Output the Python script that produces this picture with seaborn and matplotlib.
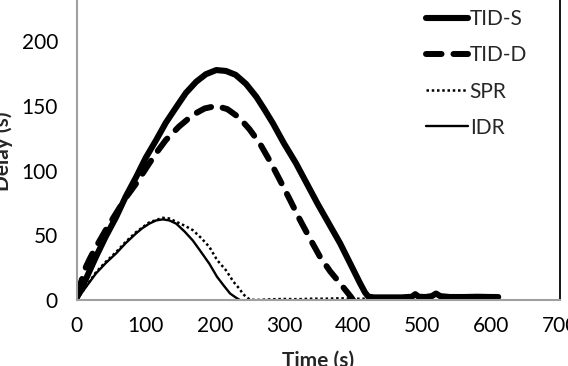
import matplotlib
matplotlib.use("Agg")
import matplotlib.pyplot as plt
import seaborn as sns
import pandas as pd

# ---- data ----
tids_t = [0, 14, 28, 42, 57, 71, 86, 100, 115, 129, 144, 158, 173, 187, 202, 216, 230, 245, 260, 272,
          284, 300, 317, 333, 349, 365, 381, 396, 410, 417, 422, 430,
          450, 470, 485, 490, 495, 505, 514, 520, 526, 540, 560, 580, 600, 610]
tids_v = [1.5, 17, 33.5, 49, 64, 80, 95, 110, 123.6, 137, 149, 160, 168.7, 174.5, 177.7, 177, 174, 167, 157, 147,
          136.5, 121, 106, 90, 74, 59, 44, 28, 13, 6, 2.6, 2,
          2, 2, 2.5, 4.5, 2.5, 2.3, 3, 5, 3, 2.3, 2.3, 2.5, 2.3, 2.3]

tidd_t = [0, 7, 13.5, 20, 28, 42, 57, 71, 86, 105, 117, 129, 148, 168, 185, 202, 218, 235, 250, 265,
          280, 294, 309, 323, 338, 352, 367, 381, 390, 396, 400]
tidd_v = [5, 15, 25.8, 33, 41, 54, 67, 79, 90, 105.6, 115, 123.6, 134, 143, 148, 150, 147.5, 141, 132, 121,
          107, 92.7, 77, 62, 47, 33.5, 22, 13, 7, 3, 0]

spr_t = [0, 14, 28, 42, 57, 71, 86, 105, 124.5, 134, 144, 156, 168, 180, 192, 203, 216, 227, 235, 241,
         246, 251, 260, 280, 300, 320, 340, 360, 380, 400, 420]
spr_v = [0, 11, 21.5, 29.5, 37, 45, 52.5, 60, 63.5, 63, 60.5, 57.5, 54, 48, 41, 31, 23, 14, 9, 4.5,
         2, 0.3, 0, 0.5, 0.8, 0.6, 1, 1, 1.3, 1, 1]

idr_t = [0, 14, 28, 42, 57, 71, 86, 95, 105, 115, 124.5, 134, 144, 156, 168, 178, 192, 203, 213, 222, 230, 236]
idr_v = [0, 10.5, 20.6, 28.5, 36, 44, 51.5, 55.5, 59, 61.5, 62.3, 61.5, 59, 53, 46, 38.6, 28, 18, 11, 5, 2, 0]

x_ticks = [0, 100, 200, 300, 400, 500, 600, 700]
y_ticks = [0, 50, 100, 150, 200, 250]

sns.set_style("white")
plt.rcParams["font.family"] = ["Lato", "DejaVu Sans"]

W, H = 568, 366
fig = plt.figure(figsize=(W / 100, H / 100), dpi=100)
x0, x1 = 76.7, 560.4
y0, ytop = 300.0, 300.0 - 250 * 1.294
ax = fig.add_axes([x0 / W, 1 - y0 / H, (x1 - x0) / W, (y0 - ytop) / H])

series = [
    ("TID-S", tids_t, tids_v, dict(lw=4.4, ls="-", solid_capstyle="round", solid_joinstyle="round")),
    ("TID-D", tidd_t, tidd_v, dict(lw=4.3, dashes=(2.6, 2.0), dash_capstyle="round")),
    ("SPR", spr_t, spr_v, dict(lw=1.8, dashes=(1.0, 1.1))),
    ("IDR", idr_t, idr_v, dict(lw=1.7, ls="-")),
]
for name, t, v, kw in series:
    df = pd.DataFrame({"t": t, "v": v})
    sns.lineplot(data=df, x="t", y="v", ax=ax, color="black", label=name,
                 estimator=None, sort=False, **kw)

ax.set_xlim(0, 700)
ax.set_ylim(0, 250)
ax.set_xticks(x_ticks)
ax.set_yticks(y_ticks)
ax.tick_params(axis="both", labelsize=15, colors="#a0a0a0", labelcolor="black",
               width=1.2, direction="out")
ax.tick_params(axis="x", length=3.6, pad=8)
ax.tick_params(axis="y", length=5, pad=8.5)

for s in ["left", "bottom"]:
    ax.spines[s].set_color("#a0a0a0")
    ax.spines[s].set_linewidth(1.5)
ax.spines["right"].set_color("black")
ax.spines["right"].set_linewidth(1.3)
ax.spines["top"].set_visible(False)

ax.set_xlabel("Time (s)", fontsize=15, fontweight="bold")
ax.set_ylabel("Delay (s)", fontsize=15, fontweight="bold")
ax.xaxis.set_label_coords(0.5, -(361 - y0) / (y0 - ytop), transform=ax.transAxes)
ax.xaxis.label.set_va("center")
ax.yaxis.set_label_coords(-(x0 - 3) / (x1 - x0), (y0 - 151) / (y0 - ytop), transform=ax.transAxes)
ax.yaxis.label.set_va("center")

leg = ax.legend(loc="upper left", bbox_to_anchor=(426 / W, 1 - 9 / H),
                bbox_transform=fig.transFigure, frameon=False, fontsize=15,
                handlelength=2.0, handletextpad=0.1, labelspacing=0.78,
                borderpad=0, borderaxespad=0)

fig.savefig("out.png", dpi=100)
